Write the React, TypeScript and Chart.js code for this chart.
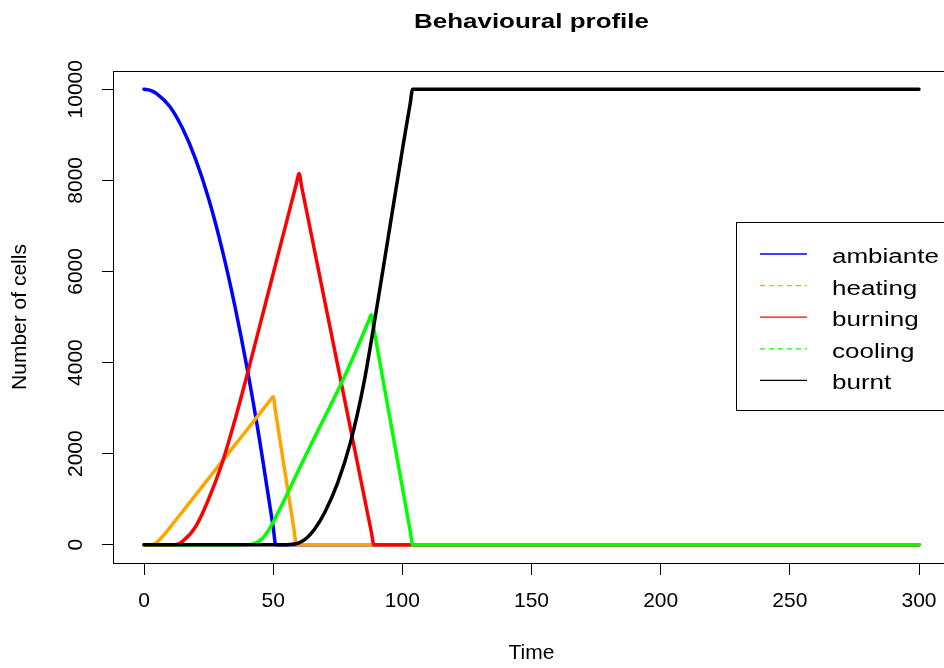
import React, { useEffect, useRef } from "react";
import { Chart, registerables } from "chart.js";

Chart.register(...registerables);

// ---- data ----
const seriesLabels = ["ambiante", "heating", "burning", "cooling", "burnt"];
const seriesColors = ["#0000FF", "#FFA500", "#FF0000", "#00FF00", "#000000"];
const legendDashed = [false, true, false, true, false];

const ambianteT = [0, 2.5, 5, 10, 15, 20, 25, 30, 35, 40, 45, 50, 51, 300];
const ambianteV = [10000, 9976, 9900, 9620, 9130, 8460, 7600, 6540, 5290, 3850, 2210, 390, 0, 0];

const heatingT = [0, 3, 4, 5, 6, 7, 8, 10, 15, 20, 25, 30, 35, 40, 45, 49, 50, 51, 58, 59, 300];
const heatingV = [0, 0, 15, 55, 110, 170, 235, 375, 735, 1095, 1455, 1815, 2175, 2535, 2895, 3180, 3250, 2890, 360, 0, 0];

const burningT = [0, 12, 15, 20, 25, 30, 35, 40, 45, 50, 55, 59, 60, 61, 88, 89, 300];
const burningV = [0, 0, 80, 400, 1000, 1750, 2700, 3750, 4850, 5950, 7050, 7930, 8150, 7870, 280, 0, 0];

const coolingT = [0, 40, 42, 44, 46, 48, 50, 55, 60, 65, 70, 75, 80, 85, 87, 88, 89, 103, 104, 300];
const coolingV = [0, 0, 15, 60, 150, 300, 500, 1060, 1660, 2240, 2810, 3380, 3990, 4650, 4920, 5050, 4730, 320, 0, 0];

const burntT = [0, 55, 58, 60, 63, 66, 70, 75, 80, 85, 90, 95, 100, 103, 104, 300];
const burntV = [0, 0, 15, 40, 150, 340, 715, 1365, 2265, 3515, 5165, 6915, 8665, 9670, 10000, 10000];

const xTicks = [0, 50, 100, 150, 200, 250, 300];
const yTicks = [0, 2000, 4000, 6000, 8000, 10000];

const titleText = "Behavioural profile";
const xTitle = "Time";
const yTitle = "Number of cells";

const seriesT = [ambianteT, heatingT, burningT, coolingT, burntT];
const seriesV = [ambianteV, heatingV, burningV, coolingV, burntV];

const FONT = '"Liberation Sans", Arial, Helvetica, sans-serif';

const rPlotPlugin = {
  id: "rPlot",
  afterDraw(chart: any) {
    const { ctx, chartArea: a, scales } = chart;
    ctx.save();
    // plot box
    ctx.strokeStyle = "#000";
    ctx.lineWidth = 1;
    ctx.strokeRect(
      Math.round(a.left) + 0.5,
      Math.round(a.top) + 0.5,
      Math.round(a.right - a.left),
      Math.round(a.bottom - a.top)
    );

    // y tick labels (rotated like R's las=0)
    ctx.fillStyle = "#000";
    ctx.font = `21px ${FONT}`;
    ctx.textAlign = "center";
    ctx.textBaseline = "alphabetic";
    yTicks.forEach((v) => {
      const y = scales.y.getPixelForValue(v);
      ctx.save();
      ctx.translate(a.left - 31, y);
      ctx.rotate(-Math.PI / 2);
      ctx.fillText(String(v), 0, 0);
      ctx.restore();
    });

    // title
    ctx.font = `bold 21px ${FONT}`;
    ctx.save();
    ctx.translate((a.left + a.right) / 2, 28);
    ctx.scale(1.235, 1);
    ctx.fillText(titleText, 0, 0);
    ctx.restore();

    // legend
    const bx = 736.5, by = 222.5, bw = 230, bh = 188;
    ctx.fillStyle = "#fff";
    ctx.fillRect(bx, by, bw, bh);
    ctx.strokeStyle = "#000";
    ctx.lineWidth = 1;
    ctx.strokeRect(bx, by, bw, bh);
    ctx.font = `20px ${FONT}`;
    ctx.textAlign = "left";
    seriesLabels.forEach((label, i) => {
      const ly = 254 + i * 31.6;
      ctx.strokeStyle = seriesColors[i];
      ctx.lineWidth = 1.3;
      ctx.setLineDash(legendDashed[i] ? [5, 4] : []);
      ctx.beginPath();
      ctx.moveTo(760, ly);
      ctx.lineTo(807, ly);
      ctx.stroke();
      ctx.setLineDash([]);
      ctx.fillStyle = "#000";
      ctx.save();
      ctx.translate(832, ly + 9);
      ctx.scale(1.3, 1);
      ctx.fillText(label, 0, 0);
      ctx.restore();
    });
    ctx.restore();
  },
};

export default function App() {
  const ref = useRef<HTMLCanvasElement | null>(null);

  useEffect(() => {
    if (!ref.current) return;
    const datasets = seriesLabels.map((label, i) => ({
      label,
      data: seriesT[i].map((t, j) => ({ x: t, y: seriesV[i][j] })),
      borderColor: seriesColors[i],
      backgroundColor: seriesColors[i],
      borderWidth: 3.5,
      pointRadius: 0,
      cubicInterpolationMode: "monotone" as const,
      fill: false,
      order: seriesLabels.length - i,
      borderJoinStyle: "round" as const,
      borderCapStyle: "round" as const,
    }));

    const chart = new Chart(ref.current, {
      type: "line",
      data: { datasets },
      options: {
        animation: false,
        responsive: false,
        devicePixelRatio: 1,
        layout: { padding: { top: 71, right: 10, left: 0, bottom: 0 } },
        plugins: {
          legend: { display: false },
          title: { display: false },
          tooltip: { enabled: false },
        },
        scales: {
          x: {
            type: "linear",
            min: -12,
            max: 312,
            afterBuildTicks: (scale: any) => {
              scale.ticks = xTicks.map((v) => ({ value: v }));
            },
            afterFit: (scale: any) => {
              scale.height = 105;
            },
            border: { display: false },
            grid: {
              display: true,
              drawOnChartArea: false,
              drawTicks: true,
              tickLength: 12,
              color: "#000",
              lineWidth: 1,
            },
            ticks: {
              color: "#000",
              font: { family: FONT, size: 21 },
              padding: 14,
              maxRotation: 0,
              minRotation: 0,
              autoSkip: false,
              callback: (v: any) => String(v),
            },
            title: {
              display: true,
              text: xTitle,
              color: "#000",
              font: { family: FONT, size: 21 },
              padding: { top: 0, bottom: 2 },
            },
          },
          y: {
            type: "linear",
            min: -400,
            max: 10400,
            afterBuildTicks: (scale: any) => {
              scale.ticks = yTicks.map((v) => ({ value: v }));
            },
            afterFit: (scale: any) => {
              scale.width = 113;
            },
            border: { display: false },
            grid: {
              display: true,
              drawOnChartArea: false,
              drawTicks: true,
              tickLength: 11,
              color: "#000",
              lineWidth: 1,
            },
            ticks: {
              display: false,
            },
            title: {
              display: true,
              text: yTitle,
              color: "#000",
              font: { family: FONT, size: 21 },
              padding: { top: 8, bottom: 0 },
            },
          },
        },
      },
      plugins: [rPlotPlugin],
    });
    return () => chart.destroy();
  }, []);

  return (
    <div
      style={{
        position: "fixed",
        left: 0,
        top: 0,
        width: 944,
        height: 668,
        overflow: "hidden",
        background: "#fff",
      }}
    >
      <canvas
        ref={ref}
        width={960}
        height={668}
        style={{ display: "block", width: 960, height: 668 }}
      />
    </div>
  );
}
